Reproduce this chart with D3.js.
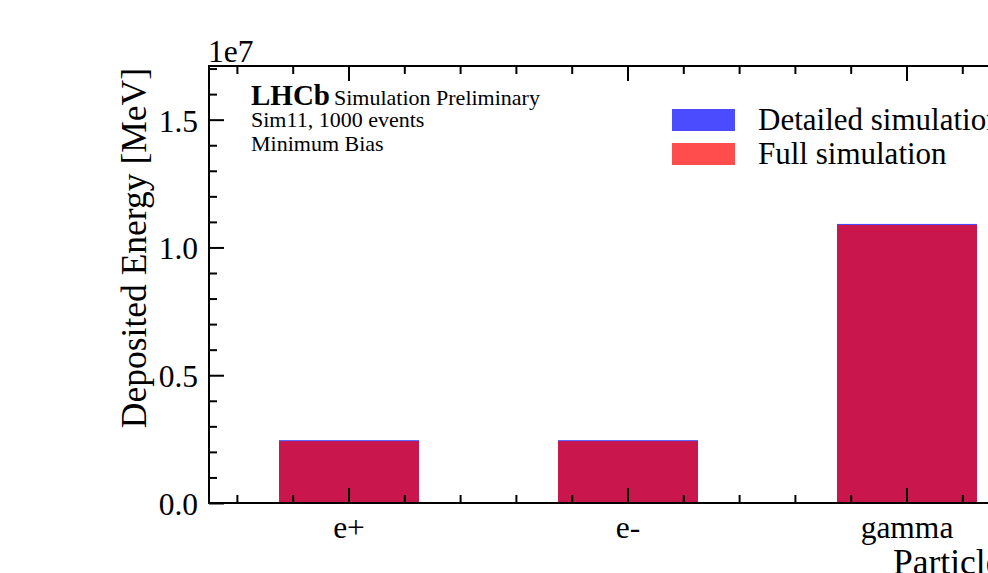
<!DOCTYPE html>
<html>
<head>
<meta charset="utf-8">
<script src="https://cdn.jsdelivr.net/npm/d3@7"></script>
<style>
  html, body { margin: 0; padding: 0; background: #fff; overflow: hidden; }
  svg { display: block; font-family: "Liberation Serif", "DejaVu Serif", serif; }
</style>
</head>
<body>
<svg id="chart" width="988" height="573"></svg>
<script>
// Particle species and deposited energy per simulation mode (MeV)
const particles = ["e+", "e-", "gamma"];
const detailedEnergy = [2.46e6, 2.46e6, 1.092e7];
const fullEnergy = [2.42e6, 2.42e6, 1.088e7];
const yTicks = [0, 0.5e7, 1.0e7, 1.5e7];
const seriesNames = ["Detailed simulation", "Full simulation"];
const infoLines = ["Sim11, 1000 events", "Minimum Bias"];

const svg = d3.select("#chart");
const plotLeft = 209, plotTop = 66, plotBottom = 503;
const unit = 279;

const x = d3.scaleLinear().domain([-0.5, 2.5]).range([plotLeft, plotLeft + 3 * unit]);
const y = d3.scaleLinear().domain([0, 1.71e7]).range([plotBottom, plotTop]);
const barW = 0.5;

// Bars: detailed (blue) underneath, full (red) on top, both translucent
const g = svg.append("g");
g.selectAll("rect.det").data(particles).join("rect")
  .attr("class", "det")
  .attr("x", (d, i) => Math.round(x(i - barW / 2)))
  .attr("width", (d, i) => Math.round(x(barW) - x(0)))
  .attr("y", (d, i) => y(detailedEnergy[i]))
  .attr("height", (d, i) => y(0) - y(detailedEnergy[i]))
  .attr("fill", "blue").attr("fill-opacity", 0.7);
g.selectAll("rect.full").data(particles).join("rect")
  .attr("class", "full")
  .attr("x", (d, i) => Math.round(x(i - barW / 2)))
  .attr("width", (d, i) => Math.round(x(barW) - x(0)))
  .attr("y", (d, i) => y(fullEnergy[i]))
  .attr("height", (d, i) => y(0) - y(fullEnergy[i]))
  .attr("fill", "red").attr("fill-opacity", 0.7);

const majorLen = 15, minorLen = 8;
const tickFont = 31.5;

function styleTicks(sel) {
  sel.select(".domain").remove();
  sel.selectAll(".tick line").attr("stroke", "#000").attr("stroke-width", 2);
}

// x axis (bottom, inward ticks) with category labels
const xMajor = particles.map((d, i) => i);
const xMinor = d3.range(-0.4, 2.5, 0.2).filter(v => Math.abs(v - Math.round(v)) > 1e-6);

const gxb = svg.append("g").attr("transform", `translate(0,${plotBottom})`)
  .call(d3.axisBottom(x).tickValues(xMajor).tickSize(-majorLen).tickFormat(i => particles[i]));
styleTicks(gxb);
gxb.selectAll(".tick text").attr("font-size", tickFont).attr("y", 35).attr("dy", 0)
  .attr("font-family", "Liberation Serif").attr("fill", "#000");

const gxbm = svg.append("g").attr("transform", `translate(0,${plotBottom})`)
  .call(d3.axisBottom(x).tickValues(xMinor).tickSize(-minorLen).tickFormat(""));
styleTicks(gxbm);

// x axis (top mirror)
const gxt = svg.append("g").attr("transform", `translate(0,${plotTop})`)
  .call(d3.axisTop(x).tickValues(xMajor).tickSize(-majorLen).tickFormat(""));
styleTicks(gxt);
const gxtm = svg.append("g").attr("transform", `translate(0,${plotTop})`)
  .call(d3.axisTop(x).tickValues(xMinor).tickSize(-minorLen).tickFormat(""));
styleTicks(gxtm);

// y axis (left, inward ticks)
const yMinor = d3.range(0.1e7, 1.71e7, 0.1e7).filter(v => Math.abs(v / 0.5e7 - Math.round(v / 0.5e7)) > 1e-6);
const gy = svg.append("g").attr("transform", `translate(${plotLeft},0)`)
  .call(d3.axisLeft(y).tickValues(yTicks).tickSize(-majorLen).tickFormat(v => (v / 1e7).toFixed(1)));
styleTicks(gy);
gy.selectAll(".tick text").attr("font-size", tickFont).attr("x", -11).attr("dy", "0.36em")
  .attr("font-family", "Liberation Serif").attr("fill", "#000");
const gym = svg.append("g").attr("transform", `translate(${plotLeft},0)`)
  .call(d3.axisLeft(y).tickValues(yMinor).tickSize(-minorLen).tickFormat(""));
styleTicks(gym);

// Frame spines
svg.append("path")
  .attr("d", `M${x.range()[1]},${plotTop}H${plotLeft}V${plotBottom}H${x.range()[1]}`)
  .attr("fill", "none").attr("stroke", "#000").attr("stroke-width", 2);

// Offset text for the y scale
svg.append("text").attr("x", plotLeft - 1).attr("y", 62).attr("font-size", tickFont).text("1e7");

// Axis titles
svg.append("text")
  .attr("transform", `translate(146,68) rotate(-90)`)
  .attr("text-anchor", "end").attr("font-size", 35.5)
  .text("Deposited Energy [MeV]");
svg.append("text").attr("x", 893).attr("y", 574).attr("font-size", 35.5).text("Particle");

// Experiment label block
svg.append("text").attr("x", 251).attr("y", 105)
  .attr("font-weight", "bold").attr("font-size", 29).text("LHCb");
svg.append("text").attr("x", 334).attr("y", 105)
  .attr("font-size", 22).text("Simulation Preliminary");
infoLines.forEach((t, i) => {
  svg.append("text").attr("x", 251).attr("y", 127 + i * 23.5).attr("font-size", 22).text(t);
});

// Legend
const legColors = ["rgba(0,0,255,0.7)", "rgba(255,0,0,0.7)"];
seriesNames.forEach((name, i) => {
  svg.append("rect").attr("x", 672).attr("y", 109 + i * 34).attr("width", 63).attr("height", 22)
    .attr("fill", legColors[i]);
  svg.append("text").attr("x", 758).attr("y", 130 + i * 34).attr("font-size", 31).text(name);
});
</script>
</body>
</html>
